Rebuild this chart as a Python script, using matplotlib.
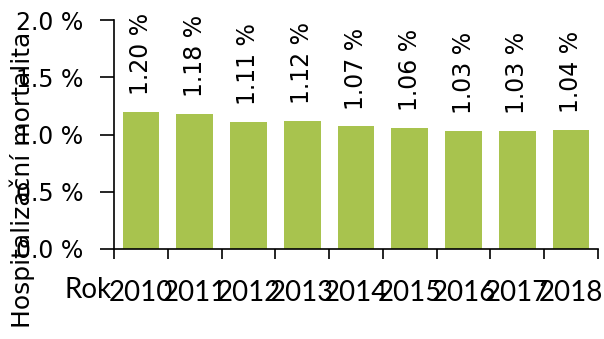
import matplotlib
matplotlib.use("Agg")
import matplotlib.pyplot as plt

years = ["2010", "2011", "2012", "2013", "2014", "2015", "2016", "2017", "2018"]
mortality = [1.20, 1.18, 1.11, 1.12, 1.07, 1.06, 1.03, 1.03, 1.04]
y_ticks = [0.0, 0.5, 1.0, 1.5, 2.0]
y_tick_labels = ["0.0 %", "0.5 %", "1.0 %", "1.5 %", "2.0 %"]

plt.rcParams["font.family"] = ["DejaVu Sans"]

fig = plt.figure(figsize=(6.04, 3.39), dpi=100)
ax = fig.add_axes([114 / 604, 1 - 249 / 339, (598 - 114) / 604, (249 - 20) / 339])

x = list(range(len(years)))
ax.bar(x, mortality, width=0.68, color="#A8C34E")

for xi, v in zip(x, mortality):
    ax.annotate(f"{v:.2f} %", (xi, v), xytext=(0, 12), textcoords="offset points",
                rotation=90, ha="center", va="bottom", fontsize=17)

ax.set_xlim(-0.5, len(years) - 0.5)
ax.set_ylim(0, 2.0)
ax.set_yticks(y_ticks)
ax.set_yticklabels(y_tick_labels, fontsize=17)
ax.tick_params(axis="y", length=10, width=1.2, pad=12, direction="out")

# category labels at bar centres, tick marks at category boundaries
ax.set_xticks(x)
ax.set_xticklabels(years, fontsize=20, family=["Lato", "DejaVu Sans"])
ax.tick_params(axis="x", which="major", length=0, pad=22)
ax.set_xticks([i - 0.5 for i in range(len(years) + 1)], minor=True)
ax.tick_params(axis="x", which="minor", length=7, width=1.2, direction="out")

for s in ["top", "right"]:
    ax.spines[s].set_visible(False)
for s in ["left", "bottom"]:
    ax.spines[s].set_linewidth(1.2)

fig.text(88 / 604, 1 - 290 / 339, "Rok", fontsize=20, family=["Lato", "DejaVu Sans"],
         ha="center", va="center")
fig.text(22 / 604, 1 - 180 / 339, "Hospitalizační mortalita", fontsize=18,
         rotation=90, ha="center", va="center")

fig.savefig("out.png", dpi=100)
